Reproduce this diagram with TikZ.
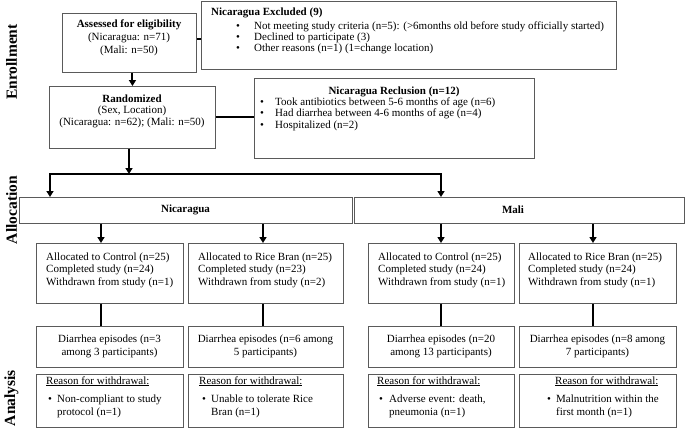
\documentclass[tikz,border=0pt]{standalone}
\usepackage{fontspec}
\setmainfont{Liberation Serif}
\usetikzlibrary{arrows.meta}
\definecolor{boxgray}{HTML}{5A5A5A}
\begin{document}
\begin{tikzpicture}[x=1pt,y=-1pt,
  box/.style={draw=boxgray, line width=0.9pt, inner sep=0pt, anchor=north west},
  txt/.style={inner sep=0pt, font=\fontsize{11}{12.5}\selectfont},
  side/.style={inner sep=0pt, rotate=90, font=\fontsize{15.5}{18}\selectfont\bfseries},
  link/.style={line width=2pt, black},
  arr/.style={link, -{Triangle[width=7pt,length=6pt]}},
  arrb/.style={link, {Triangle[width=7pt,length=6pt]}-{Triangle[width=7pt,length=6pt]}},
]
\useasboundingbox (0,0) rectangle (685,428);
\fill[white] (0,0) rectangle (685,428);

% side labels
\node[side] (lenr) at (11.5,62) {Enrollment};
\node[side] (lall) at (11.5,210) {Allocation};
\node[side] (lana) at (11.5,398) {Analysis};

% enrollment
\node[box, minimum width=134pt, minimum height=59pt] (assess) at (62,13) {};
\node[txt, anchor=base, align=center] (assessT) at (129,53) {\textbf{Assessed for eligibility}\\(Nicaragua: n=71)\\(Mali: n=50)};

\node[box, minimum width=415pt, minimum height=68pt] (excl) at (201,1) {};
\node[txt, anchor=base west, font=\fontsize{11}{12.5}\selectfont\bfseries] (exclT) at (211,16) {Nicaragua Excluded (9)};
\node[txt, anchor=base west, align=left, font=\fontsize{11}{11.2}\selectfont] (exclL) at (236,51.4)
  {\makebox[18pt][l]{\textbullet}Not meeting study criteria (n=5): (>6months old before study officially started)\\
   \makebox[18pt][l]{\textbullet}Declined to participate (3)\\
   \makebox[18pt][l]{\textbullet}Other reasons (n=1) (1=change location)};

\node[box, minimum width=166pt, minimum height=62pt] (rand) at (49,86) {};
\node[txt, anchor=base, align=center, font=\fontsize{11}{11.8}\selectfont] (randT) at (132,125.6) {\textbf{Randomized}\\(Sex, Location)\\(Nicaragua: n=62); (Mali: n=50)};

\node[box, minimum width=280pt, minimum height=80pt] (recl) at (254,78) {};
\node[txt, anchor=base, font=\fontsize{11}{12.5}\selectfont\bfseries] (reclT) at (394,94) {Nicaragua Reclusion (n=12)};
\node[txt, anchor=base west, align=left, font=\fontsize{11}{11.5}\selectfont] (reclL) at (260,128)
  {\makebox[15pt][l]{\textbullet}Took antibiotics between 5-6 months of age (n=6)\\
   \makebox[15pt][l]{\textbullet}Had diarrhea between 4-6 months of age (n=4)\\
   \makebox[15pt][l]{\textbullet}Hospitalized (n=2)};

\draw[link] ([yshift=3.5pt]assess.east) -- ([yshift=3.5pt]assess.east -| excl.west);
\draw[arr] (rand.north |- assess.south) -- (rand.north);
\draw[link] (rand.east) -- (rand.east -| recl.west);

% allocation
\node[box, minimum width=333pt, minimum height=26pt] (nica) at (19,197) {};
\node[txt, font=\fontsize{11}{12.5}\selectfont\bfseries] (nicaT) at (185.5,210) {Nicaragua};
\node[box, minimum width=330pt, minimum height=26pt] (mali) at (354,197) {};
\node[txt, font=\fontsize{11}{12.5}\selectfont\bfseries] (maliT) at (513,210) {Mali};

\coordinate (split) at (129,174);
\coordinate (lft) at (50,174);
\coordinate (rgt) at (441,174);
\draw[arr] (rand.south -| split) -- (split);
\draw[arrb] (lft |- nica.north) -- (lft) -- (rgt) -- (rgt |- mali.north);

% group boxes
\node[box, minimum width=147pt, minimum height=60pt] (a1) at (36,243) {};
\node[box, minimum width=155pt, minimum height=60pt] (a2) at (188,243) {};
\node[box, minimum width=146pt, minimum height=60pt] (a3) at (368,243) {};
\node[box, minimum width=157pt, minimum height=60pt] (a4) at (519,243) {};
\node[txt, anchor=base west, align=left] (a1T) at (46,285) {Allocated to Control (n=25)\\Completed study (n=24)\\Withdrawn from study (n=1)};
\node[txt, anchor=base west, align=left] (a2T) at (198,285) {Allocated to Rice Bran (n=25)\\Completed study (n=23)\\Withdrawn from study (n=2)};
\node[txt, anchor=base west, align=left] (a3T) at (378,285) {Allocated to Control (n=25)\\Completed study (n=24)\\Withdrawn from study (n=1)};
\node[txt, anchor=base west, align=left] (a4T) at (528,285) {Allocated to Rice Bran (n=25)\\Completed study (n=24)\\Withdrawn from study (n=1)};

\node[box, minimum width=147pt, minimum height=41pt] (d1) at (36,326) {};
\node[box, minimum width=155pt, minimum height=41pt] (d2) at (188,326) {};
\node[box, minimum width=146pt, minimum height=41pt] (d3) at (368,326) {};
\node[box, minimum width=157pt, minimum height=41pt] (d4) at (519,326) {};
\node[txt, anchor=base, align=center, font=\fontsize{11}{13}\selectfont] (d1T) at (109.5,355) {Diarrhea episodes (n=3\\among 3 participants)};
\node[txt, anchor=base, align=center, font=\fontsize{11}{13}\selectfont] (d2T) at (265.5,355) {Diarrhea episodes (n=6 among\\5 participants)};
\node[txt, anchor=base, align=center, font=\fontsize{11}{13}\selectfont] (d3T) at (441,355) {Diarrhea episodes (n=20\\among 13 participants)};
\node[txt, anchor=base, align=center, font=\fontsize{11}{13}\selectfont] (d4T) at (597.5,355) {Diarrhea episodes (n=8 among\\7 participants)};

\node[box, minimum width=147pt, minimum height=53pt] (r1) at (36,374) {};
\node[box, minimum width=155pt, minimum height=53pt] (r2) at (188,374) {};
\node[box, minimum width=146pt, minimum height=53pt] (r3) at (368,374) {};
\node[box, minimum width=157pt, minimum height=53pt] (r4) at (519,374) {};
\node[txt, anchor=base west] (r1H) at (46,384) {\underline{Reason for withdrawal:}};
\node[txt, anchor=base west] (r2H) at (199,384) {\underline{Reason for withdrawal:}};
\node[txt, anchor=base west] (r3H) at (377,384) {\underline{Reason for withdrawal:}};
\node[txt, anchor=base west] (r4H) at (555,384) {\underline{Reason for withdrawal:}};
\node[txt, anchor=base west, align=left, font=\fontsize{11}{13.3}\selectfont] (r1L) at (48,415.3) {\makebox[9pt][l]{\textbullet}Non-compliant to study\\\hspace*{9pt}protocol (n=1)};
\node[txt, anchor=base west, align=left, font=\fontsize{11}{13.3}\selectfont] (r2L) at (202,415.3) {\makebox[9pt][l]{\textbullet}Unable to tolerate Rice\\\hspace*{9pt}Bran (n=1)};
\node[txt, anchor=base west, align=left, font=\fontsize{11}{13.3}\selectfont] (r3L) at (379,415.3) {\makebox[10pt][l]{\textbullet}Adverse event: death,\\\hspace*{10pt}pneumonia (n=1)};
\node[txt, anchor=base west, align=left, font=\fontsize{11}{13.3}\selectfont] (r4L) at (547,415.3) {\makebox[9pt][l]{\textbullet}Malnutrition within the\\\hspace*{9pt}first month (n=1)};

% connectors
\coordinate (c1) at (101,0);
\coordinate (c2) at (263,0);
\coordinate (c3) at (441,0);
\coordinate (c4) at (593,0);
\draw[arr] (c1 |- nica.south) -- (c1 |- a1.north);
\draw[arr] (c2 |- nica.south) -- (c2 |- a2.north);
\draw[arr] (c3 |- mali.south) -- (c3 |- a3.north);
\draw[arr] (c4 |- mali.south) -- (c4 |- a4.north);
\draw[link] (c1 |- a1.south) -- (c1 |- d1.north);
\draw[link] (c2 |- a2.south) -- (c2 |- d2.north);
\draw[link] (c3 |- a3.south) -- (c3 |- d3.north);
\draw[link] (c4 |- a4.south) -- (c4 |- d4.north);
\end{tikzpicture}
\end{document}
